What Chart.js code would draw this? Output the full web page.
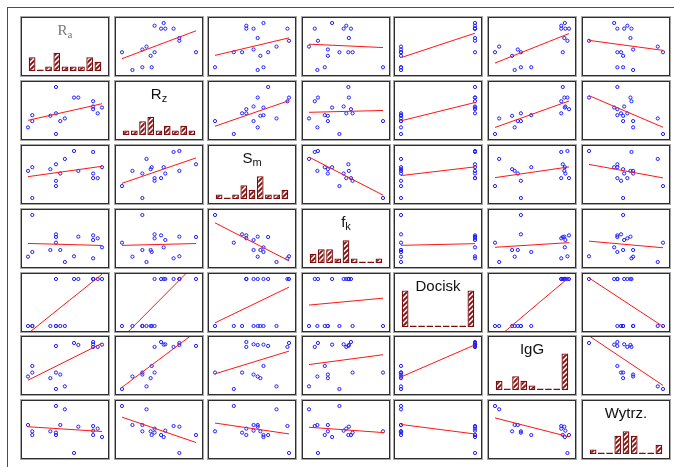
<!DOCTYPE html>
<html>
<head>
<meta charset="utf-8">
<title>Macierz wykresów rozrzutu</title>
<script src="https://cdn.jsdelivr.net/npm/chart.js@4.4.1/dist/chart.umd.min.js"></script>
<style>
  body { margin: 0; background: #fff; width: 674px; height: 467px; overflow: hidden; position: relative;
         font-family: 'Liberation Sans', Arial, sans-serif; }
  #frame { position: absolute; left: 7px; top: 7px; right: 0; bottom: 0;
           border-top: 1px solid #9a2c2c; border-left: 1px solid #9a2c2c; }
  .cell { position: absolute; width: 88px; height: 59px; box-sizing: border-box;
          border: 1px solid #2e2e2e; box-shadow: 0 0 0 1px #a8a8a8; background: #fff; }
  .cell canvas { position: absolute; left: 0; top: 0; }
  .lab { position: absolute; left: 0; right: 0; top: 4px; text-align: center;
         font-size: 15px; line-height: 16px; color: #111; }
  .lab sub { font-size: 11px; vertical-align: -3px; line-height: 0; }
  .lab.ra { font-family: 'Liberation Serif', serif; color: #777; }
</style>
</head>
<body>
<div id="frame"></div>
<div id="grid"></div>
<script>
const names = ['R<sub>a</sub>', 'R<sub>z</sub>', 'S<sub>m</sub>', 'f<sub>k</sub>', 'Docisk', 'IgG', 'Wytrz.'];
const Ra     = [0, 5.8, 5.8, 30.2, 37.8, 37.8, 37.8, 43.6, 49.8, 62.2, 68, 88, 88, 88, 94.2, 100];
const Rz     = [14.1, 40.1, 27.5, 38.7, 44, 0, 100, 27.5, 33.1, 77.5, 77.5, 69.7, 58.5, 52.8, 44, 56.3];
const Sm     = [57.7, 65.5, 0, 61.3, 36.6, 25.4, 71.8, 52.1, 83.1, 100, 57.7, 97.9, 52.1, 42.3, 42.3, 65.5];
const fk     = [11.3, 21.3, 100, 25.5, 58.9, 41.1, 53.2, 25.5, 0, 12.1, 53.9, 7.8, 46.8, 56.7, 50.4, 31.2];
const Docisk = [0, 0, 0, 0, 0, 0, 1, 0, 0, 1, 1, 1, 1, 1, 1, 1];
const IgG    = [26.6, 49.0, 35.0, 23.1, 35.0, 0, 91.6, 30.8, 5.6, 97.9, 93.7, 89.5, 95.1, 100, 89.5, 94.4];
const Wytrz  = [59.6, 38.3, 46.1, 46.1, 43.3, 100, 38.3, 59.6, 92.9, 0, 56.0, 57.4, 47.5, 38.3, 51.8, 34.0];

// histogram counts on the diagonal (9 bins each)
const binLabels = ['1', '2', '3', '4', '5', '6', '7', '8', '9'];
const histRa     = [3, 0, 1, 4, 1, 1, 1, 3, 2];
const histRz     = [1, 1, 3, 4, 1, 2, 1, 2, 1];
const histSm     = [1, 0, 1, 3, 2, 5, 1, 1, 2];
const histFk     = [2, 3, 3, 1, 5, 1, 0, 0, 1];
const histDocisk = [8, 0, 0, 0, 0, 0, 0, 0, 8];
const histIgG    = [2, 0, 3, 2, 1, 0, 0, 0, 8];
const histWytrz  = [1, 0, 0, 4, 5, 4, 0, 0, 2];

const vars = [Ra, Rz, Sm, fk, Docisk, IgG, Wytrz];
const hists = [histRa, histRz, histSm, histFk, histDocisk, histIgG, histWytrz];

const colX = [21, 115, 208, 302, 394, 488, 582];
const rowY = [17, 81, 145, 209, 273, 336, 400];
const maroon = '#7d0c0c';

function hatch() {
  const c = document.createElement('canvas');
  c.width = 5; c.height = 5;
  const g = c.getContext('2d');
  g.fillStyle = '#fbeeee';
  g.fillRect(0, 0, 5, 5);
  g.strokeStyle = maroon;
  g.lineWidth = 1.8;
  g.beginPath();
  g.moveTo(0, 5); g.lineTo(5, 0);
  g.moveTo(-1, 1); g.lineTo(1, -1);
  g.moveTo(4, 6); g.lineTo(6, 4);
  g.stroke();
  return g.createPattern(c, 'repeat');
}
const pattern = hatch();

function fitLine(xs, ys) {
  const n = xs.length;
  const mx = xs.reduce((a, b) => a + b, 0) / n;
  const my = ys.reduce((a, b) => a + b, 0) / n;
  let sxy = 0, sxx = 0;
  for (let i = 0; i < n; i++) {
    sxy += (xs[i] - mx) * (ys[i] - my);
    sxx += (xs[i] - mx) * (xs[i] - mx);
  }
  const b = sxy / sxx, a = my - b * mx;
  const x0 = Math.min(...xs), x1 = Math.max(...xs);
  return [{ x: x0, y: a + b * x0 }, { x: x1, y: a + b * x1 }];
}

const common = {
  responsive: false,
  animation: false,
  events: [],
  plugins: { legend: { display: false }, tooltip: { enabled: false } }
};

function scatterConfig(xs, ys) {
  return {
    type: 'scatter',
    data: {
      datasets: [
        {
          type: 'line', data: fitLine(xs, ys), borderColor: '#ff1414', borderWidth: 1,
          pointRadius: 0, clip: false, order: 0
        },
        {
          data: xs.map((x, i) => ({ x: x, y: ys[i] })),
          pointRadius: 1.6, pointBorderWidth: 1, pointBorderColor: '#1e1eff',
          pointBackgroundColor: 'rgba(255,255,255,0)', clip: false, order: 1
        }
      ]
    },
    options: {
      ...common,
      layout: { padding: { left: 6, right: 6, top: 5, bottom: 4 } },
      scales: {
        x: { type: 'linear', display: false, min: Math.min(...xs), max: Math.max(...xs) },
        y: { type: 'linear', display: false, min: Math.min(...ys), max: Math.max(...ys) }
      }
    }
  };
}

function histConfig(counts) {
  return {
    type: 'bar',
    data: {
      labels: binLabels,
      datasets: [{
        data: counts,
        backgroundColor: ctx => (ctx.raw === 0 ? maroon : pattern),
        borderColor: maroon,
        borderWidth: 1.3,
        borderSkipped: false,
        barPercentage: 0.82,
        categoryPercentage: 1,
        minBarLength: 1.5
      }]
    },
    options: {
      ...common,
      layout: { padding: { left: 6, right: 6, top: 0, bottom: 4 } },
      scales: {
        x: { display: false },
        y: { display: false, min: 0, max: 11.6 }
      }
    }
  };
}

const grid = document.getElementById('grid');
for (let r = 0; r < 7; r++) {
  for (let c = 0; c < 7; c++) {
    const cell = document.createElement('div');
    cell.className = 'cell';
    cell.style.left = colX[c] + 'px';
    cell.style.top = rowY[r] + 'px';
    const cv = document.createElement('canvas');
    cv.width = 86; cv.height = 57;
    cv.style.width = '86px'; cv.style.height = '57px';
    cell.appendChild(cv);
    grid.appendChild(cell);
    if (r === c) {
      new Chart(cv, histConfig(hists[r]));
      const lab = document.createElement('div');
      lab.className = 'lab' + (r === 0 ? ' ra' : '');
      lab.innerHTML = names[r];
      cell.appendChild(lab);
    } else {
      new Chart(cv, scatterConfig(vars[c], vars[r]));
    }
  }
}
</script>
</body>
</html>
